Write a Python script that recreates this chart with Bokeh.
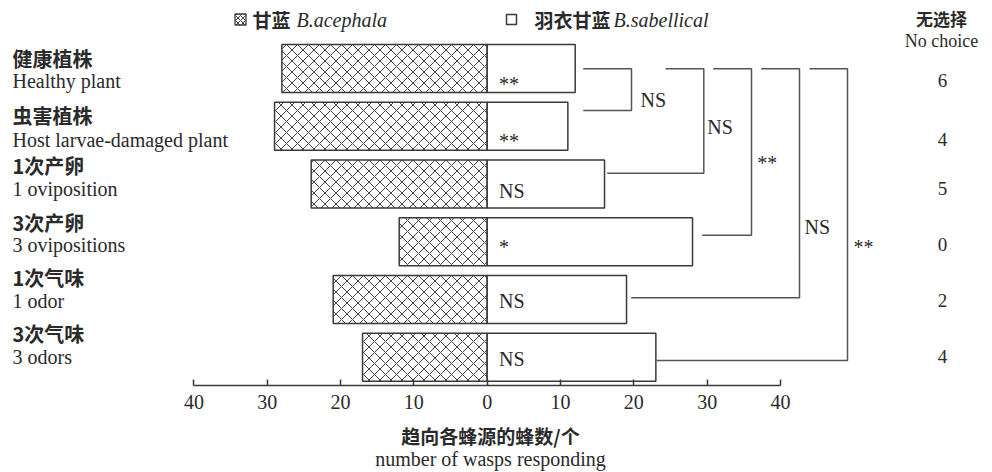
from bokeh.plotting import figure
from bokeh.models import LinearAxis, FixedTicker, Range1d
from bokeh.core.properties import value
from bokeh.embed import file_html
from bokeh.resources import INLINE

# ---------------- data ----------------
categories_cn = ["健康植株", "虫害植株", "1次产卵", "3次产卵", "1次气味", "3次气味"]
categories_en = ["Healthy plant", "Host larvae-damaged plant", "1 oviposition",
                 "3 ovipositions", "1 odor", "3 odors"]
acephala = [28, 29, 24, 12, 21, 17]      # 甘蓝 B.acephala (left, hatched)
sabellica = [12, 11, 16, 28, 19, 23]     # 羽衣甘蓝 B.sabellical (right, white)
no_choice = [6, 4, 5, 0, 2, 4]
significance = ["**", "**", "NS", "*", "NS", "NS"]
pair_labels = ["NS", "NS", "**", "NS", "**"]   # healthy vs rows 2..6
tick_values = [-40, -30, -20, -10, 0, 10, 20, 30, 40]
tick_labels = ["40", "30", "20", "10", "0", "10", "20", "30", "40"]

# ---------------- layout ----------------
W, H = 992, 472
OFF = 0                    # page offset of the canvas
PX = 7.333                 # px per unit on x
ZERO_PX = 486.7            # page x of value 0
PY = 57.76                 # px per category step
TOP_PY = 68.0              # page y of first bar centre
n = len(categories_cn)
x_start = -(ZERO_PX - OFF) / PX
x_end = x_start + W / PX
y_end = (n - 1) + (TOP_PY - OFF) / PY
y_start = y_end - H / PY


def X(px):
    return x_start + (px - OFF) / PX


def Y(py):
    return y_end - (py - OFF) / PY


ypos = [n - 1 - i for i in range(n)]
serif = value("Liberation Serif")
cjk = value("Noto Sans CJK SC")
INK = "#2a2a2a"
LINE = "#3a3a3a"

p = figure(width=W, height=H, output_backend="svg", toolbar_location=None,
           x_range=Range1d(x_start, x_end), y_range=Range1d(y_start, y_end),
           min_border=0, x_axis_type=None, y_axis_type=None)
p.outline_line_color = None
p.xgrid.visible = False
p.ygrid.visible = False
p.background_fill_color = "white"
p.border_fill_color = "white"

BAR_H = 48 / PY
p.hbar(y=ypos, left=[-v for v in acephala], right=0, height=BAR_H,
       fill_color="white", line_color=LINE, line_width=1.5,
       hatch_pattern="diagonal_cross", hatch_color="#444444", hatch_weight=1.0,
       hatch_scale=11)
p.hbar(y=ypos, left=0, right=sabellica, height=BAR_H,
       fill_color="white", line_color=LINE, line_width=1.5)

# axis
ax = LinearAxis(fixed_location=Y(385), bounds=(-40, 40),
                ticker=FixedTicker(ticks=tick_values))
ax.major_label_overrides = {t: l for t, l in zip(tick_values, tick_labels)}
ax.major_tick_in = 6
ax.major_tick_out = 0
ax.minor_tick_line_color = None
ax.axis_line_color = LINE
ax.axis_line_width = 1.5
ax.major_tick_line_color = LINE
ax.major_tick_line_width = 1.5
ax.major_label_text_font = "Liberation Serif"
ax.major_label_text_font_size = "20px"
ax.major_label_text_color = INK
ax.major_label_standoff = 9
p.add_layout(ax, "below")

# significance inside bars
sig_offsets = [15, 15, 7, 5, 1, 1.5]
p.text(x=[1.6] * n, y=ypos, text=significance, y_offset=sig_offsets,
       text_font=serif, text_font_size="20px", text_color=INK,
       text_baseline="middle", text_align="left")

# category labels
cn_py = [58, 115, 165, 222, 277, 333]
en_py = [80, 139, 188, 244, 300, 356]
p.text(x=[X(12)] * n, y=[Y(v) for v in cn_py], text=categories_cn,
       text_font=cjk, text_font_style="bold", text_font_size="20px",
       text_color=INK, text_baseline="middle", text_align="left")
p.text(x=[X(12)] * n, y=[Y(v) for v in en_py], text=categories_en,
       text_font=serif, text_font_size="20px", text_color=INK,
       text_baseline="middle", text_align="left")

# no-choice column
p.text(x=[X(942)] * n, y=[Y(v) for v in en_py], text=[str(v) for v in no_choice],
       text_font=serif, text_font_size="19px", text_color=INK,
       text_baseline="middle", text_align="center")
p.text(x=[X(941)], y=[Y(18)], text=["无选择"], text_font=cjk,
       text_font_style="bold", text_font_size="17px", text_color=INK,
       text_baseline="middle", text_align="center")
p.text(x=[X(941)], y=[Y(40)], text=["No choice"], text_font=serif,
       text_font_size="18px", text_color=INK,
       text_baseline="middle", text_align="center")

# brackets (healthy vs each other treatment)
TOP_Y = 68.3
brk = [  # top-start x, vertical x, bottom-start x, bottom y, label x, label y
    (582.7, 631.0, 582.7, 110.0, 640.0, 99.0),
    (665.0, 703.3, 606.7, 172.7, 706.7, 126.7),
    (712.7, 751.0, 701.7, 234.7, 756.7, 162.0),
    (760.7, 799.0, 630.7, 297.3, 804.0, 226.0),
    (809.0, 847.0, 656.0, 360.0, 853.0, 246.0),
]
xs = [[X(a), X(b), X(b), X(c)] for a, b, c, d, e, f in brk]
ys = [[Y(TOP_Y), Y(TOP_Y), Y(d), Y(d)] for a, b, c, d, e, f in brk]
p.multi_line(xs=xs, ys=ys, line_color="#555555", line_width=1.5)
p.text(x=[X(b[4]) for b in brk], y=[Y(b[5]) for b in brk], text=pair_labels,
       text_font=serif, text_font_size="20px", text_color=INK,
       text_baseline="middle", text_align="left")

# legend
p.scatter(x=[X(240)], y=[Y(19)], marker="square", size=11, fill_color="white",
          line_color=LINE, line_width=1.3, hatch_pattern="diagonal_cross",
          hatch_color="#444444", hatch_scale=5, hatch_weight=1)
p.scatter(x=[X(511)], y=[Y(19)], marker="square", size=10, fill_color="white",
          line_color=LINE, line_width=1.5)
p.text(x=[X(252), X(534)], y=[Y(19)] * 2, text=["甘蓝", "羽衣甘蓝"], text_font=cjk,
       text_font_style="bold", text_font_size="19px", text_color=INK,
       text_baseline="middle", text_align="left")
p.text(x=[X(296), X(613)], y=[Y(19)] * 2, text=["B.acephala", "B.sabellical"],
       text_font=serif, text_font_style="italic", text_font_size="20px",
       text_color=INK, text_baseline="middle", text_align="left")

# axis title
p.text(x=[X(490)], y=[Y(435)], text=["趋向各蜂源的蜂数/个"], text_font=cjk,
       text_font_style="bold", text_font_size="19px", text_color=INK,
       text_baseline="middle", text_align="center")
p.text(x=[X(490)], y=[Y(458)], text=["number of wasps responding"],
       text_font=serif, text_font_size="20px", text_color=INK,
       text_baseline="middle", text_align="center")

open("out.html", "w").write(file_html(p, INLINE))
